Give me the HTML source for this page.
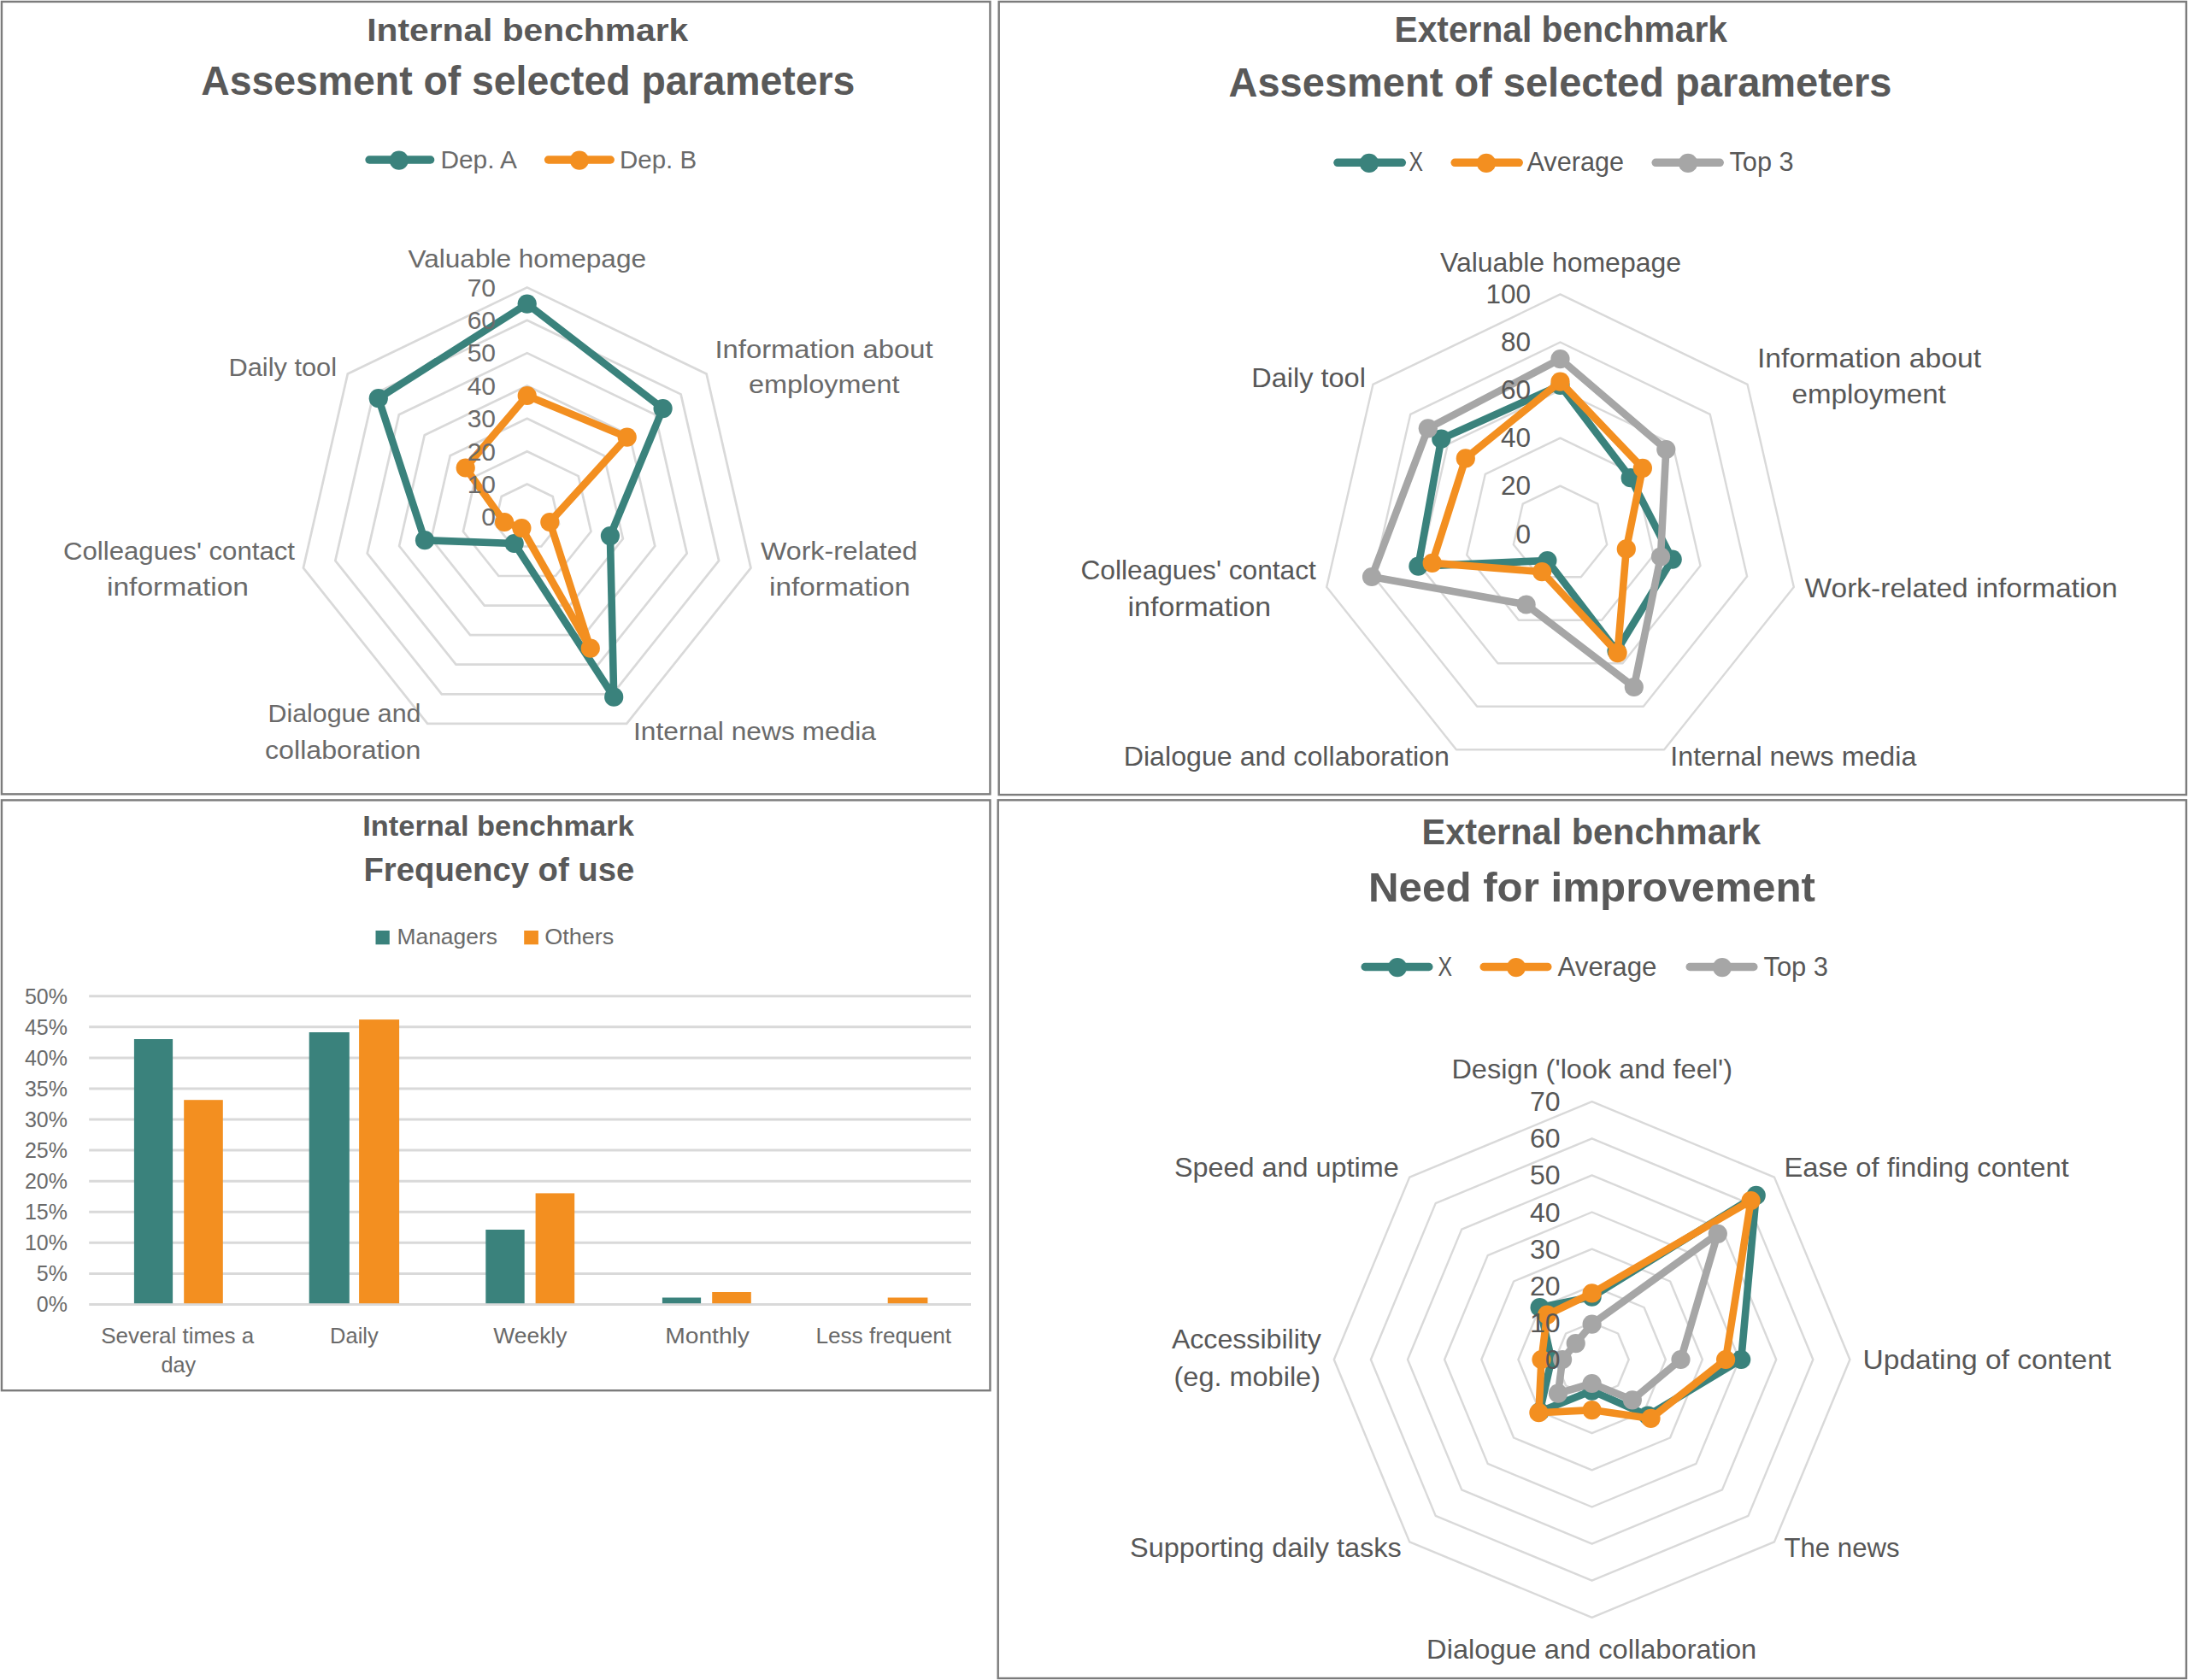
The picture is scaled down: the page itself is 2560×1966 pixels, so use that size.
<!DOCTYPE html>
<html lang="en"><head><meta charset="utf-8"><title>Benchmark charts</title>
<style>html,body{margin:0;padding:0;background:#fff}body{width:2560px;height:1966px;overflow:hidden}svg{display:block}</style>
</head><body>
<svg width="2560" height="1966" viewBox="0 0 2560 1966" font-family='"Liberation Sans", sans-serif'>
<rect x="0" y="0" width="2560" height="1966" fill="#fff"/>
<rect x="1.95" y="1.95" width="1156.5" height="927.4" fill="#fff" stroke="#7c7c7c" stroke-width="2.4"/>
<rect x="1168.7" y="1.95" width="1389.3" height="928.1" fill="#fff" stroke="#7c7c7c" stroke-width="2.4"/>
<rect x="1.95" y="936.4" width="1156.5" height="690.8" fill="#fff" stroke="#7c7c7c" stroke-width="2.4"/>
<rect x="1167.7" y="936.3" width="1390.3" height="1027.7" fill="#fff" stroke="#7c7c7c" stroke-width="2.4"/>
<text x="429.2" y="48.0" font-size="37.7" fill="#595959" font-weight="bold" text-anchor="start" textLength="376.0" lengthAdjust="spacingAndGlyphs">Internal benchmark</text>
<text x="235.3" y="111.3" font-size="48" fill="#595959" font-weight="bold" text-anchor="start" textLength="765.0" lengthAdjust="spacingAndGlyphs">Assesment of selected parameters</text>
<line x1="432.1" y1="187" x2="503.6" y2="187" stroke="#3a827c" stroke-width="9.5" stroke-linecap="round"/>
<circle cx="466.8" cy="187.6" r="11.1" fill="#3a827c"/>
<text x="515.5" y="196.5" font-size="30" fill="#6a6a6a" font-weight="normal" text-anchor="start" textLength="89.5" lengthAdjust="spacingAndGlyphs">Dep. A</text>
<line x1="641.6" y1="187" x2="714.2" y2="187" stroke="#f38f20" stroke-width="9.5" stroke-linecap="round"/>
<circle cx="677.9" cy="187.6" r="11.1" fill="#f38f20"/>
<text x="725.1" y="196.5" font-size="30" fill="#6a6a6a" font-weight="normal" text-anchor="start" textLength="90.0" lengthAdjust="spacingAndGlyphs">Dep. B</text>
<polygon points="616.7,566.5 646.7,581.0 654.1,613.4 633.3,639.5 600.1,639.5 579.3,613.4 586.7,581.0" fill="none" stroke="#d9d9d9" stroke-width="2.7" stroke-linejoin="round"/>
<polygon points="616.7,528.2 676.7,557.1 691.5,622.0 650.0,674.0 583.4,674.0 541.9,622.0 556.7,557.1" fill="none" stroke="#d9d9d9" stroke-width="2.7" stroke-linejoin="round"/>
<polygon points="616.7,489.8 706.7,533.2 728.9,630.5 666.6,708.6 566.8,708.6 504.5,630.5 526.7,533.2" fill="none" stroke="#d9d9d9" stroke-width="2.7" stroke-linejoin="round"/>
<polygon points="616.7,451.5 736.7,509.2 766.3,639.0 683.3,743.1 550.1,743.1 467.1,639.0 496.7,509.2" fill="none" stroke="#d9d9d9" stroke-width="2.7" stroke-linejoin="round"/>
<polygon points="616.7,413.1 766.6,485.3 803.7,647.6 699.9,777.7 533.5,777.7 429.7,647.6 466.8,485.3" fill="none" stroke="#d9d9d9" stroke-width="2.7" stroke-linejoin="round"/>
<polygon points="616.7,374.8 796.6,461.4 841.1,656.1 716.6,812.3 516.8,812.3 392.3,656.1 436.8,461.4" fill="none" stroke="#d9d9d9" stroke-width="2.7" stroke-linejoin="round"/>
<polygon points="616.7,336.4 826.6,437.5 878.5,664.6 733.2,846.8 500.2,846.8 354.9,664.6 406.8,437.5" fill="none" stroke="#d9d9d9" stroke-width="2.7" stroke-linejoin="round"/>
<polygon points="616.7,355.6 775.6,478.1 713.9,627.1 718.2,815.7 601.7,636.0 497.0,632.2 442.8,466.2" fill="none" stroke="#3a827c" stroke-width="8.6" stroke-linejoin="round" stroke-linecap="round"/>
<circle cx="616.7" cy="355.6" r="11.1" fill="#3a827c"/>
<circle cx="775.6" cy="478.1" r="11.1" fill="#3a827c"/>
<circle cx="713.9" cy="627.1" r="11.1" fill="#3a827c"/>
<circle cx="718.2" cy="815.7" r="11.1" fill="#3a827c"/>
<circle cx="601.7" cy="636.0" r="11.1" fill="#3a827c"/>
<circle cx="497.0" cy="632.2" r="11.1" fill="#3a827c"/>
<circle cx="442.8" cy="466.2" r="11.1" fill="#3a827c"/>
<polygon points="616.7,463.0 733.7,511.6 643.3,611.0 690.8,758.7 610.4,618.0 590.1,611.0 544.7,547.5" fill="none" stroke="#f38f20" stroke-width="8.6" stroke-linejoin="round" stroke-linecap="round"/>
<circle cx="616.7" cy="463.0" r="11.1" fill="#f38f20"/>
<circle cx="733.7" cy="511.6" r="11.1" fill="#f38f20"/>
<circle cx="643.3" cy="611.0" r="11.1" fill="#f38f20"/>
<circle cx="690.8" cy="758.7" r="11.1" fill="#f38f20"/>
<circle cx="610.4" cy="618.0" r="11.1" fill="#f38f20"/>
<circle cx="590.1" cy="611.0" r="11.1" fill="#f38f20"/>
<circle cx="544.7" cy="547.5" r="11.1" fill="#f38f20"/>
<text x="580.0" y="615.2" font-size="30" fill="#6a6a6a" font-weight="normal" text-anchor="end">0</text>
<text x="580.0" y="576.8" font-size="30" fill="#6a6a6a" font-weight="normal" text-anchor="end">10</text>
<text x="580.0" y="538.5" font-size="30" fill="#6a6a6a" font-weight="normal" text-anchor="end">20</text>
<text x="580.0" y="500.1" font-size="30" fill="#6a6a6a" font-weight="normal" text-anchor="end">30</text>
<text x="580.0" y="461.8" font-size="30" fill="#6a6a6a" font-weight="normal" text-anchor="end">40</text>
<text x="580.0" y="423.4" font-size="30" fill="#6a6a6a" font-weight="normal" text-anchor="end">50</text>
<text x="580.0" y="385.1" font-size="30" fill="#6a6a6a" font-weight="normal" text-anchor="end">60</text>
<text x="580.0" y="346.7" font-size="30" fill="#6a6a6a" font-weight="normal" text-anchor="end">70</text>
<text x="477.5" y="312.5" font-size="30" fill="#6a6a6a" font-weight="normal" text-anchor="start" textLength="278.5" lengthAdjust="spacingAndGlyphs">Valuable homepage</text>
<text x="836.5" y="419.0" font-size="30" fill="#6a6a6a" font-weight="normal" text-anchor="start" textLength="255.0" lengthAdjust="spacingAndGlyphs">Information about</text>
<text x="876.0" y="460.0" font-size="30" fill="#6a6a6a" font-weight="normal" text-anchor="start" textLength="176.5" lengthAdjust="spacingAndGlyphs">employment</text>
<text x="890.0" y="655.0" font-size="30" fill="#6a6a6a" font-weight="normal" text-anchor="start" textLength="183.5" lengthAdjust="spacingAndGlyphs">Work-related</text>
<text x="900.0" y="696.5" font-size="30" fill="#6a6a6a" font-weight="normal" text-anchor="start" textLength="165.0" lengthAdjust="spacingAndGlyphs">information</text>
<text x="741.0" y="866.0" font-size="30" fill="#6a6a6a" font-weight="normal" text-anchor="start" textLength="284.0" lengthAdjust="spacingAndGlyphs">Internal news media</text>
<text x="313.5" y="845.0" font-size="30" fill="#6a6a6a" font-weight="normal" text-anchor="start" textLength="179.0" lengthAdjust="spacingAndGlyphs">Dialogue and</text>
<text x="310.0" y="887.5" font-size="30" fill="#6a6a6a" font-weight="normal" text-anchor="start" textLength="182.5" lengthAdjust="spacingAndGlyphs">collaboration</text>
<text x="74.0" y="655.0" font-size="30" fill="#6a6a6a" font-weight="normal" text-anchor="start" textLength="271.0" lengthAdjust="spacingAndGlyphs">Colleagues' contact</text>
<text x="125.0" y="696.5" font-size="30" fill="#6a6a6a" font-weight="normal" text-anchor="start" textLength="166.0" lengthAdjust="spacingAndGlyphs">information</text>
<text x="267.5" y="440.0" font-size="30" fill="#6a6a6a" font-weight="normal" text-anchor="start" textLength="126.5" lengthAdjust="spacingAndGlyphs">Daily tool</text>
<text x="1631.5" y="49.0" font-size="42" fill="#595959" font-weight="bold" text-anchor="start" textLength="389.5" lengthAdjust="spacingAndGlyphs">External benchmark</text>
<text x="1437.5" y="112.5" font-size="49" fill="#595959" font-weight="bold" text-anchor="start" textLength="776.0" lengthAdjust="spacingAndGlyphs">Assesment of selected parameters</text>
<line x1="1565.0" y1="190.3" x2="1640.3" y2="190.3" stroke="#3a827c" stroke-width="9.5" stroke-linecap="round"/>
<circle cx="1601.9" cy="190.9" r="11.1" fill="#3a827c"/>
<text x="1648.5" y="200.3" font-size="31.5" fill="#575757" font-weight="normal" text-anchor="start" textLength="16.5" lengthAdjust="spacingAndGlyphs">X</text>
<line x1="1702.2" y1="190.3" x2="1777.2" y2="190.3" stroke="#f38f20" stroke-width="9.5" stroke-linecap="round"/>
<circle cx="1739" cy="190.9" r="11.1" fill="#f38f20"/>
<text x="1786.5" y="200.3" font-size="31.5" fill="#575757" font-weight="normal" text-anchor="start" textLength="113.5" lengthAdjust="spacingAndGlyphs">Average</text>
<line x1="1937.2" y1="190.3" x2="2012.2" y2="190.3" stroke="#a6a6a6" stroke-width="9.5" stroke-linecap="round"/>
<circle cx="1975" cy="190.9" r="11.1" fill="#a6a6a6"/>
<text x="2023.5" y="200.3" font-size="31.5" fill="#575757" font-weight="normal" text-anchor="start" textLength="75.0" lengthAdjust="spacingAndGlyphs">Top 3</text>
<polygon points="1825.5,568.6 1869.3,589.7 1880.2,637.2 1849.8,675.2 1801.2,675.2 1770.8,637.2 1781.7,589.7" fill="none" stroke="#d9d9d9" stroke-width="2.4" stroke-linejoin="round"/>
<polygon points="1825.5,512.6 1913.2,554.8 1934.8,649.6 1874.1,725.7 1776.9,725.7 1716.2,649.6 1737.8,554.8" fill="none" stroke="#d9d9d9" stroke-width="2.4" stroke-linejoin="round"/>
<polygon points="1825.5,456.5 1957.0,519.8 1989.5,662.1 1898.5,776.2 1752.5,776.2 1661.5,662.1 1694.0,519.8" fill="none" stroke="#d9d9d9" stroke-width="2.4" stroke-linejoin="round"/>
<polygon points="1825.5,400.5 2000.8,484.9 2044.1,674.6 1922.8,826.7 1728.2,826.7 1606.9,674.6 1650.2,484.9" fill="none" stroke="#d9d9d9" stroke-width="2.4" stroke-linejoin="round"/>
<polygon points="1825.5,344.4 2044.6,449.9 2098.8,687.1 1947.1,877.2 1703.9,877.2 1552.2,687.1 1606.4,449.9" fill="none" stroke="#d9d9d9" stroke-width="2.4" stroke-linejoin="round"/>
<polygon points="1825.5,450.9 1907.7,559.2 1956.7,654.6 1891.5,761.8 1810.4,656.0 1659.4,662.6 1686.3,513.7" fill="none" stroke="#3a827c" stroke-width="8.6" stroke-linejoin="round" stroke-linecap="round"/>
<circle cx="1825.5" cy="450.9" r="11.1" fill="#3a827c"/>
<circle cx="1907.7" cy="559.2" r="11.1" fill="#3a827c"/>
<circle cx="1956.7" cy="654.6" r="11.1" fill="#3a827c"/>
<circle cx="1891.5" cy="761.8" r="11.1" fill="#3a827c"/>
<circle cx="1810.4" cy="656.0" r="11.1" fill="#3a827c"/>
<circle cx="1659.4" cy="662.6" r="11.1" fill="#3a827c"/>
<circle cx="1686.3" cy="513.7" r="11.1" fill="#3a827c"/>
<polygon points="1825.5,446.7 1921.9,547.8 1902.8,642.4 1892.6,764.1 1804.1,669.1 1675.7,658.9 1714.8,536.4" fill="none" stroke="#f38f20" stroke-width="8.6" stroke-linejoin="round" stroke-linecap="round"/>
<circle cx="1825.5" cy="446.7" r="11.1" fill="#f38f20"/>
<circle cx="1921.9" cy="547.8" r="11.1" fill="#f38f20"/>
<circle cx="1902.8" cy="642.4" r="11.1" fill="#f38f20"/>
<circle cx="1892.6" cy="764.1" r="11.1" fill="#f38f20"/>
<circle cx="1804.1" cy="669.1" r="11.1" fill="#f38f20"/>
<circle cx="1675.7" cy="658.9" r="11.1" fill="#f38f20"/>
<circle cx="1714.8" cy="536.4" r="11.1" fill="#f38f20"/>
<polygon points="1825.5,420.1 1949.3,526.0 1943.0,651.5 1911.8,804.0 1785.6,707.5 1605.0,675.0 1670.8,501.3" fill="none" stroke="#a6a6a6" stroke-width="8.6" stroke-linejoin="round" stroke-linecap="round"/>
<circle cx="1825.5" cy="420.1" r="11.1" fill="#a6a6a6"/>
<circle cx="1949.3" cy="526.0" r="11.1" fill="#a6a6a6"/>
<circle cx="1943.0" cy="651.5" r="11.1" fill="#a6a6a6"/>
<circle cx="1911.8" cy="804.0" r="11.1" fill="#a6a6a6"/>
<circle cx="1785.6" cy="707.5" r="11.1" fill="#a6a6a6"/>
<circle cx="1605.0" cy="675.0" r="11.1" fill="#a6a6a6"/>
<circle cx="1670.8" cy="501.3" r="11.1" fill="#a6a6a6"/>
<text x="1791.0" y="635.5" font-size="31.5" fill="#575757" font-weight="normal" text-anchor="end">0</text>
<text x="1791.0" y="579.4" font-size="31.5" fill="#575757" font-weight="normal" text-anchor="end">20</text>
<text x="1791.0" y="523.4" font-size="31.5" fill="#575757" font-weight="normal" text-anchor="end">40</text>
<text x="1791.0" y="467.3" font-size="31.5" fill="#575757" font-weight="normal" text-anchor="end">60</text>
<text x="1791.0" y="411.3" font-size="31.5" fill="#575757" font-weight="normal" text-anchor="end">80</text>
<text x="1791.0" y="355.2" font-size="31.5" fill="#575757" font-weight="normal" text-anchor="end">100</text>
<text x="1685.0" y="318.0" font-size="31.5" fill="#575757" font-weight="normal" text-anchor="start" textLength="282.0" lengthAdjust="spacingAndGlyphs">Valuable homepage</text>
<text x="2056.0" y="429.5" font-size="31.5" fill="#575757" font-weight="normal" text-anchor="start" textLength="262.0" lengthAdjust="spacingAndGlyphs">Information about</text>
<text x="2096.5" y="472.4" font-size="31.5" fill="#575757" font-weight="normal" text-anchor="start" textLength="180.3" lengthAdjust="spacingAndGlyphs">employment</text>
<text x="2111.6" y="698.7" font-size="31.5" fill="#575757" font-weight="normal" text-anchor="start" textLength="366.0" lengthAdjust="spacingAndGlyphs">Work-related information</text>
<text x="1954.3" y="896.0" font-size="31.5" fill="#575757" font-weight="normal" text-anchor="start" textLength="288.0" lengthAdjust="spacingAndGlyphs">Internal news media</text>
<text x="1314.7" y="896.0" font-size="31.5" fill="#575757" font-weight="normal" text-anchor="start" textLength="381.2" lengthAdjust="spacingAndGlyphs">Dialogue and collaboration</text>
<text x="1264.5" y="677.6" font-size="31.5" fill="#575757" font-weight="normal" text-anchor="start" textLength="275.3" lengthAdjust="spacingAndGlyphs">Colleagues' contact</text>
<text x="1319.6" y="720.5" font-size="31.5" fill="#575757" font-weight="normal" text-anchor="start" textLength="167.6" lengthAdjust="spacingAndGlyphs">information</text>
<text x="1464.2" y="452.5" font-size="31.5" fill="#575757" font-weight="normal" text-anchor="start" textLength="133.7" lengthAdjust="spacingAndGlyphs">Daily tool</text>
<text x="424.2" y="977.8" font-size="33" fill="#595959" font-weight="bold" text-anchor="start" textLength="317.6" lengthAdjust="spacingAndGlyphs">Internal benchmark</text>
<text x="425.5" y="1031.4" font-size="38.8" fill="#595959" font-weight="bold" text-anchor="start" textLength="316.7" lengthAdjust="spacingAndGlyphs">Frequency of use</text>
<rect x="439.5" y="1089" width="16.3" height="16.3" fill="#3a827c"/>
<text x="464.5" y="1105.3" font-size="25" fill="#6a6a6a" font-weight="normal" text-anchor="start" textLength="117.4" lengthAdjust="spacingAndGlyphs">Managers</text>
<rect x="613.2" y="1089" width="16.7" height="16.3" fill="#f38f20"/>
<text x="637.2" y="1105.3" font-size="25" fill="#6a6a6a" font-weight="normal" text-anchor="start" textLength="81.2" lengthAdjust="spacingAndGlyphs">Others</text>
<line x1="104.2" y1="1526.5" x2="1136" y2="1526.5" stroke="#d9d9d9" stroke-width="3"/>
<text x="79.0" y="1535.4" font-size="25" fill="#6a6a6a" font-weight="normal" text-anchor="end">0%</text>
<line x1="104.2" y1="1490.4" x2="1136" y2="1490.4" stroke="#d9d9d9" stroke-width="3"/>
<text x="79.0" y="1499.3" font-size="25" fill="#6a6a6a" font-weight="normal" text-anchor="end">5%</text>
<line x1="104.2" y1="1454.3" x2="1136" y2="1454.3" stroke="#d9d9d9" stroke-width="3"/>
<text x="79.0" y="1463.2" font-size="25" fill="#6a6a6a" font-weight="normal" text-anchor="end">10%</text>
<line x1="104.2" y1="1418.3" x2="1136" y2="1418.3" stroke="#d9d9d9" stroke-width="3"/>
<text x="79.0" y="1427.2" font-size="25" fill="#6a6a6a" font-weight="normal" text-anchor="end">15%</text>
<line x1="104.2" y1="1382.2" x2="1136" y2="1382.2" stroke="#d9d9d9" stroke-width="3"/>
<text x="79.0" y="1391.1" font-size="25" fill="#6a6a6a" font-weight="normal" text-anchor="end">20%</text>
<line x1="104.2" y1="1346.1" x2="1136" y2="1346.1" stroke="#d9d9d9" stroke-width="3"/>
<text x="79.0" y="1355.0" font-size="25" fill="#6a6a6a" font-weight="normal" text-anchor="end">25%</text>
<line x1="104.2" y1="1310.0" x2="1136" y2="1310.0" stroke="#d9d9d9" stroke-width="3"/>
<text x="79.0" y="1318.9" font-size="25" fill="#6a6a6a" font-weight="normal" text-anchor="end">30%</text>
<line x1="104.2" y1="1273.9" x2="1136" y2="1273.9" stroke="#d9d9d9" stroke-width="3"/>
<text x="79.0" y="1282.8" font-size="25" fill="#6a6a6a" font-weight="normal" text-anchor="end">35%</text>
<line x1="104.2" y1="1237.9" x2="1136" y2="1237.9" stroke="#d9d9d9" stroke-width="3"/>
<text x="79.0" y="1246.8" font-size="25" fill="#6a6a6a" font-weight="normal" text-anchor="end">40%</text>
<line x1="104.2" y1="1201.8" x2="1136" y2="1201.8" stroke="#d9d9d9" stroke-width="3"/>
<text x="79.0" y="1210.7" font-size="25" fill="#6a6a6a" font-weight="normal" text-anchor="end">45%</text>
<line x1="104.2" y1="1165.7" x2="1136" y2="1165.7" stroke="#d9d9d9" stroke-width="3"/>
<text x="79.0" y="1174.6" font-size="25" fill="#6a6a6a" font-weight="normal" text-anchor="end">50%</text>
<rect x="156.9" y="1216.0" width="45.2" height="309.2" fill="#3a827c"/>
<rect x="215.2" y="1287.2" width="45.6" height="238.0" fill="#f38f20"/>
<rect x="361.7" y="1208.0" width="47.1" height="317.2" fill="#3a827c"/>
<rect x="420.1" y="1193.1" width="47.0" height="332.1" fill="#f38f20"/>
<rect x="568.3" y="1439.0" width="45.4" height="86.2" fill="#3a827c"/>
<rect x="626.6" y="1396.4" width="45.6" height="128.8" fill="#f38f20"/>
<rect x="774.9" y="1518.5" width="45.2" height="6.7" fill="#3a827c"/>
<rect x="833.2" y="1512.0" width="45.6" height="13.2" fill="#f38f20"/>
<rect x="1038.7" y="1518.5" width="46.7" height="6.7" fill="#f38f20"/>
<text x="118.2" y="1571.5" font-size="25" fill="#6a6a6a" font-weight="normal" text-anchor="start" textLength="179.0" lengthAdjust="spacingAndGlyphs">Several times a</text>
<text x="188.4" y="1606.3" font-size="25" fill="#6a6a6a" font-weight="normal" text-anchor="start" textLength="40.8" lengthAdjust="spacingAndGlyphs">day</text>
<text x="386.1" y="1571.5" font-size="25" fill="#6a6a6a" font-weight="normal" text-anchor="start" textLength="56.6" lengthAdjust="spacingAndGlyphs">Daily</text>
<text x="577.2" y="1571.5" font-size="25" fill="#6a6a6a" font-weight="normal" text-anchor="start" textLength="86.3" lengthAdjust="spacingAndGlyphs">Weekly</text>
<text x="778.2" y="1571.5" font-size="25" fill="#6a6a6a" font-weight="normal" text-anchor="start" textLength="98.8" lengthAdjust="spacingAndGlyphs">Monthly</text>
<text x="954.4" y="1571.5" font-size="25" fill="#6a6a6a" font-weight="normal" text-anchor="start" textLength="158.7" lengthAdjust="spacingAndGlyphs">Less frequent</text>
<text x="1663.5" y="987.5" font-size="42.5" fill="#595959" font-weight="bold" text-anchor="start" textLength="396.5" lengthAdjust="spacingAndGlyphs">External benchmark</text>
<text x="1601.0" y="1054.5" font-size="49" fill="#595959" font-weight="bold" text-anchor="start" textLength="523.0" lengthAdjust="spacingAndGlyphs">Need for improvement</text>
<line x1="1597.2" y1="1131.5" x2="1671.8" y2="1131.5" stroke="#3a827c" stroke-width="9.5" stroke-linecap="round"/>
<circle cx="1635" cy="1132.1" r="11.1" fill="#3a827c"/>
<text x="1682.5" y="1142.0" font-size="32" fill="#575757" font-weight="normal" text-anchor="start" textLength="16.5" lengthAdjust="spacingAndGlyphs">X</text>
<line x1="1736.2" y1="1131.5" x2="1810.8" y2="1131.5" stroke="#f38f20" stroke-width="9.5" stroke-linecap="round"/>
<circle cx="1774" cy="1132.1" r="11.1" fill="#f38f20"/>
<text x="1822.5" y="1142.0" font-size="32" fill="#575757" font-weight="normal" text-anchor="start" textLength="116.0" lengthAdjust="spacingAndGlyphs">Average</text>
<line x1="1977.2" y1="1131.5" x2="2051.8" y2="1131.5" stroke="#a6a6a6" stroke-width="9.5" stroke-linecap="round"/>
<circle cx="2015" cy="1132.1" r="11.1" fill="#a6a6a6"/>
<text x="2063.5" y="1142.0" font-size="32" fill="#575757" font-weight="normal" text-anchor="start" textLength="75.5" lengthAdjust="spacingAndGlyphs">Top 3</text>
<polygon points="1862.6,1547.9 1893.1,1560.5 1905.7,1591.0 1893.1,1621.5 1862.6,1634.1 1832.1,1621.5 1819.5,1591.0 1832.1,1560.5" fill="none" stroke="#d9d9d9" stroke-width="2.4" stroke-linejoin="round"/>
<polygon points="1862.6,1504.8 1923.6,1530.0 1948.8,1591.0 1923.6,1652.0 1862.6,1677.2 1801.6,1652.0 1776.4,1591.0 1801.6,1530.0" fill="none" stroke="#d9d9d9" stroke-width="2.4" stroke-linejoin="round"/>
<polygon points="1862.6,1461.7 1954.1,1499.5 1991.9,1591.0 1954.1,1682.5 1862.6,1720.3 1771.1,1682.5 1733.3,1591.0 1771.1,1499.5" fill="none" stroke="#d9d9d9" stroke-width="2.4" stroke-linejoin="round"/>
<polygon points="1862.6,1418.5 1984.5,1469.1 2035.1,1591.0 1984.5,1712.9 1862.6,1763.5 1740.7,1712.9 1690.1,1591.0 1740.7,1469.1" fill="none" stroke="#d9d9d9" stroke-width="2.4" stroke-linejoin="round"/>
<polygon points="1862.6,1375.4 2015.0,1438.6 2078.2,1591.0 2015.0,1743.4 1862.6,1806.6 1710.2,1743.4 1647.0,1591.0 1710.2,1438.6" fill="none" stroke="#d9d9d9" stroke-width="2.4" stroke-linejoin="round"/>
<polygon points="1862.6,1332.3 2045.5,1408.1 2121.3,1591.0 2045.5,1773.9 1862.6,1849.7 1679.7,1773.9 1603.9,1591.0 1679.7,1408.1" fill="none" stroke="#d9d9d9" stroke-width="2.4" stroke-linejoin="round"/>
<polygon points="1862.6,1289.2 2076.0,1377.6 2164.4,1591.0 2076.0,1804.4 1862.6,1892.8 1649.2,1804.4 1560.8,1591.0 1649.2,1377.6" fill="none" stroke="#d9d9d9" stroke-width="2.4" stroke-linejoin="round"/>
<polygon points="1862.6,1517.7 2054.7,1398.9 2037.2,1591.0 1928.1,1656.5 1862.6,1627.6 1801.6,1652.0 1815.2,1591.0 1801.6,1530.0" fill="none" stroke="#3a827c" stroke-width="8.6" stroke-linejoin="round" stroke-linecap="round"/>
<circle cx="1862.6" cy="1517.7" r="11.1" fill="#3a827c"/>
<circle cx="2054.7" cy="1398.9" r="11.1" fill="#3a827c"/>
<circle cx="2037.2" cy="1591.0" r="11.1" fill="#3a827c"/>
<circle cx="1928.1" cy="1656.5" r="11.1" fill="#3a827c"/>
<circle cx="1862.6" cy="1627.6" r="11.1" fill="#3a827c"/>
<circle cx="1801.6" cy="1652.0" r="11.1" fill="#3a827c"/>
<circle cx="1815.2" cy="1591.0" r="11.1" fill="#3a827c"/>
<circle cx="1801.6" cy="1530.0" r="11.1" fill="#3a827c"/>
<polygon points="1862.6,1513.4 2048.6,1405.0 2019.1,1591.0 1931.5,1659.9 1862.6,1650.1 1800.4,1653.2 1803.5,1591.0 1810.2,1538.6" fill="none" stroke="#f38f20" stroke-width="8.6" stroke-linejoin="round" stroke-linecap="round"/>
<circle cx="1862.6" cy="1513.4" r="11.1" fill="#f38f20"/>
<circle cx="2048.6" cy="1405.0" r="11.1" fill="#f38f20"/>
<circle cx="2019.1" cy="1591.0" r="11.1" fill="#f38f20"/>
<circle cx="1931.5" cy="1659.9" r="11.1" fill="#f38f20"/>
<circle cx="1862.6" cy="1650.1" r="11.1" fill="#f38f20"/>
<circle cx="1800.4" cy="1653.2" r="11.1" fill="#f38f20"/>
<circle cx="1803.5" cy="1591.0" r="11.1" fill="#f38f20"/>
<circle cx="1810.2" cy="1538.6" r="11.1" fill="#f38f20"/>
<polygon points="1862.6,1549.6 2009.8,1443.8 1966.5,1591.0 1909.9,1638.3 1862.6,1619.0 1823.0,1630.6 1828.1,1591.0 1843.7,1572.1" fill="none" stroke="#a6a6a6" stroke-width="8.6" stroke-linejoin="round" stroke-linecap="round"/>
<circle cx="1862.6" cy="1549.6" r="11.1" fill="#a6a6a6"/>
<circle cx="2009.8" cy="1443.8" r="11.1" fill="#a6a6a6"/>
<circle cx="1966.5" cy="1591.0" r="11.1" fill="#a6a6a6"/>
<circle cx="1909.9" cy="1638.3" r="11.1" fill="#a6a6a6"/>
<circle cx="1862.6" cy="1619.0" r="11.1" fill="#a6a6a6"/>
<circle cx="1823.0" cy="1630.6" r="11.1" fill="#a6a6a6"/>
<circle cx="1828.1" cy="1591.0" r="11.1" fill="#a6a6a6"/>
<circle cx="1843.7" cy="1572.1" r="11.1" fill="#a6a6a6"/>
<text x="1825.5" y="1602.0" font-size="32" fill="#575757" font-weight="normal" text-anchor="end">0</text>
<text x="1825.5" y="1558.9" font-size="32" fill="#575757" font-weight="normal" text-anchor="end">10</text>
<text x="1825.5" y="1515.8" font-size="32" fill="#575757" font-weight="normal" text-anchor="end">20</text>
<text x="1825.5" y="1472.7" font-size="32" fill="#575757" font-weight="normal" text-anchor="end">30</text>
<text x="1825.5" y="1429.5" font-size="32" fill="#575757" font-weight="normal" text-anchor="end">40</text>
<text x="1825.5" y="1386.4" font-size="32" fill="#575757" font-weight="normal" text-anchor="end">50</text>
<text x="1825.5" y="1343.3" font-size="32" fill="#575757" font-weight="normal" text-anchor="end">60</text>
<text x="1825.5" y="1300.2" font-size="32" fill="#575757" font-weight="normal" text-anchor="end">70</text>
<text x="1698.4" y="1262.3" font-size="32" fill="#575757" font-weight="normal" text-anchor="start" textLength="328.6" lengthAdjust="spacingAndGlyphs">Design ('look and feel')</text>
<text x="2087.5" y="1377.1" font-size="32" fill="#575757" font-weight="normal" text-anchor="start" textLength="333.2" lengthAdjust="spacingAndGlyphs">Ease of finding content</text>
<text x="2179.6" y="1601.5" font-size="32" fill="#575757" font-weight="normal" text-anchor="start" textLength="290.5" lengthAdjust="spacingAndGlyphs">Updating of content</text>
<text x="2087.5" y="1822.3" font-size="32" fill="#575757" font-weight="normal" text-anchor="start" textLength="135.0" lengthAdjust="spacingAndGlyphs">The news</text>
<text x="1669.1" y="1940.6" font-size="32" fill="#575757" font-weight="normal" text-anchor="start" textLength="386.1" lengthAdjust="spacingAndGlyphs">Dialogue and collaboration</text>
<text x="1322.0" y="1822.3" font-size="32" fill="#575757" font-weight="normal" text-anchor="start" textLength="317.8" lengthAdjust="spacingAndGlyphs">Supporting daily tasks</text>
<text x="1370.9" y="1578.0" font-size="32" fill="#575757" font-weight="normal" text-anchor="start" textLength="174.9" lengthAdjust="spacingAndGlyphs">Accessibility</text>
<text x="1373.5" y="1622.0" font-size="32" fill="#575757" font-weight="normal" text-anchor="start" textLength="171.5" lengthAdjust="spacingAndGlyphs">(eg. mobile)</text>
<text x="1373.9" y="1377.3" font-size="32" fill="#575757" font-weight="normal" text-anchor="start" textLength="262.9" lengthAdjust="spacingAndGlyphs">Speed and uptime</text>
</svg>
</body></html>
